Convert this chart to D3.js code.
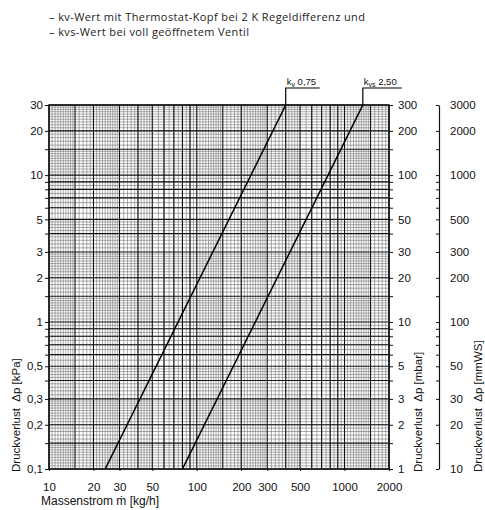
<!DOCTYPE html>
<html>
<head>
<meta charset="utf-8">
<script src="https://cdn.jsdelivr.net/npm/d3@7"></script>
<style>
  body { margin: 0; background: #fff; }
  svg { display: block; font-family: "Liberation Sans", Arial, sans-serif; }
</style>
</head>
<body>
<svg id="chart" width="485" height="510"></svg>
<script>
// values
const xTicks = [10, 20, 30, 50, 100, 200, 300, 500, 1000, 2000];
const kpaTicks = [0.1, 0.2, 0.3, 0.5, 1, 2, 3, 5, 10, 20, 30];
const mbarTicks = [1, 2, 3, 5, 10, 20, 30, 50, 100, 200, 300];
const mmwsTicks = [10, 20, 30, 50, 100, 200, 300, 500, 1000, 2000, 3000];
const kvLine = [{ m: 24, dp: 0.1 }, { m: 400, dp: 30 }];
const kvsLine = [{ m: 80, dp: 0.1 }, { m: 1330, dp: 30 }];
const notes = [
  '– kv-Wert mit Thermostat-Kopf bei 2 K Regeldifferenz und',
  '– kvs-Wert bei voll geöffnetem Ventil'
];

const svg = d3.select('#chart');
const pL = 49, pR = 389, pT = 105, pB = 469;

const x = d3.scaleLog().domain([10, 2000]).range([pL, pR]);
const y = d3.scaleLog().domain([0.1, 30]).range([pB, pT]);
const yMbar = d3.scaleLog().domain([1, 300]).range([pB, pT]);
const yMmws = d3.scaleLog().domain([10, 3000]).range([pB, pT]);

// log paper: fine subdivisions and heavier lines at 1, 1.5, 2 .. 9 per decade
const fineSteps = [[1, 1.5, 0.05], [1.5, 3, 0.1], [3, 5, 0.2], [5, 10, 0.5]];
const majorMults = [1, 1.5, 2, 3, 4, 5, 6, 7, 8, 9];
function gridValues(lo, hi) {
  const fine = [], major = [];
  for (let e = Math.floor(Math.log10(lo)); e <= Math.ceil(Math.log10(hi)); e++) {
    const p = Math.pow(10, e);
    majorMults.forEach(k => major.push(+(k * p).toPrecision(6)));
    fineSteps.forEach(([a, b, s]) => {
      for (let i = 1; a + i * s < b - 1e-9; i++) fine.push((a + i * s) * p);
    });
  }
  const inside = v => v >= lo * 0.9999 && v <= hi * 1.0001;
  return { fine: fine.filter(inside), major: major.filter(inside) };
}

const gx = gridValues(10, 2000), gy = gridValues(0.1, 30);
const grid = svg.append('g');

grid.selectAll('.fx').data(gx.fine).join('line')
  .attr('x1', d => x(d)).attr('x2', d => x(d))
  .attr('y1', pT).attr('y2', pB)
  .attr('stroke', '#666').attr('stroke-width', 0.55);
grid.selectAll('.fy').data(gy.fine).join('line')
  .attr('y1', d => y(d)).attr('y2', d => y(d))
  .attr('x1', pL).attr('x2', pR)
  .attr('stroke', '#666').attr('stroke-width', 0.55);
grid.selectAll('.mx').data(gx.major).join('line')
  .attr('x1', d => x(d)).attr('x2', d => x(d))
  .attr('y1', pT).attr('y2', pB)
  .attr('stroke', '#111').attr('stroke-width', 1.1);
grid.selectAll('.my').data(gy.major).join('line')
  .attr('y1', d => y(d)).attr('y2', d => y(d))
  .attr('x1', pL).attr('x2', pR)
  .attr('stroke', '#111').attr('stroke-width', 1.1);

svg.append('rect')
  .attr('x', pL).attr('y', pT)
  .attr('width', pR - pL).attr('height', pB - pT)
  .attr('fill', 'none').attr('stroke', '#111').attr('stroke-width', 1.5);

// axes
const labelFont = '11.5px';
const fmt = d => String(d).replace('.', ',');

const axLeft = svg.append('g')
  .attr('transform', `translate(${pL},0)`)
  .call(d3.axisLeft(y).tickValues(gy.major).tickSize(4)
    .tickFormat(d => kpaTicks.includes(d) ? fmt(d) : ''));
const axRight = svg.append('g')
  .attr('transform', `translate(${pR},0)`)
  .call(d3.axisRight(yMbar).tickValues(gridValues(1, 300).major).tickSize(4)
    .tickFormat(d => mbarTicks.includes(d) ? d : ''));
const axMm = svg.append('g')
  .attr('transform', 'translate(439,0)')
  .call(d3.axisRight(yMmws).tickValues(gridValues(10, 3000).major).tickSizeInner(-3).tickSizeOuter(0)
    .tickPadding(11)
    .tickFormat(d => mmwsTicks.includes(d) ? d : ''));
const axBottom = svg.append('g')
  .attr('transform', `translate(0,${pB})`)
  .call(d3.axisBottom(x).tickValues(xTicks).tickSize(2).tickPadding(12)
    .tickFormat(d => d));

[axLeft, axRight, axMm, axBottom].forEach(a => {
  a.selectAll('text').attr('font-size', labelFont).attr('fill', '#111')
    .attr('font-family', '"Liberation Sans", Arial, sans-serif');
  a.selectAll('line').attr('stroke', '#111');
});
axLeft.select('.domain').remove();
axRight.select('.domain').remove();
axBottom.select('.domain').remove();
axMm.select('.domain').attr('stroke', '#111').attr('stroke-width', 1.2);
axLeft.selectAll('text').attr('x', -6);
axRight.selectAll('text').attr('x', 9);

// kv curves
const line = d3.line().x(d => x(d.m)).y(d => y(d.dp));
[kvLine, kvsLine].forEach(pts => {
  svg.append('path').datum(pts)
    .attr('d', line)
    .attr('fill', 'none').attr('stroke', '#000').attr('stroke-width', 1.6);
});

// leaders with labels
const leaders = [
  { pts: kvLine, sub: 'v', value: '0,75', len: 34 },
  { pts: kvsLine, sub: 'vs', value: '2,50', len: 39 }
];
leaders.forEach(l => {
  const x0 = x(l.pts[1].m);
  svg.append('path')
    .attr('d', `M${x0},${pT}V88H${x0 + l.len}`)
    .attr('fill', 'none').attr('stroke', '#000').attr('stroke-width', 1.2);
  const t = svg.append('text')
    .attr('x', x0 + 1).attr('y', 85)
    .attr('font-size', '9.5px').attr('fill', '#111');
  t.append('tspan').text('k');
  t.append('tspan').attr('font-size', '7px').attr('dy', 2).text(l.sub);
  t.append('tspan').attr('dy', -2).text(' ' + l.value);
});

// axis titles
svg.append('text')
  .attr('x', 41).attr('y', 505)
  .attr('font-size', '12px').attr('fill', '#111')
  .text('Massenstrom ṁ [kg/h]');

const yTitles = [
  { x: 20, text: 'Druckverlust  Δp [kPa]' },
  { x: 422, text: 'Druckverlust  Δp [mbar]' },
  { x: 482, text: 'Druckverlust  Δp [mmWS]' }
];
yTitles.forEach(t => {
  svg.append('text')
    .attr('transform', `translate(${t.x},472) rotate(-90)`)
    .attr('font-size', '11.5px').attr('fill', '#111')
    .attr('xml:space', 'preserve')
    .text(t.text);
});

// notes on top
const noteWidths = [316, 200];
svg.selectAll('.note').data(notes).join('text')
  .attr('x', 49).attr('y', (d, i) => 21 + i * 15)
  .attr('font-family', '"Open Sans", sans-serif')
  .attr('font-size', '11px').attr('fill', '#222')
  .attr('textLength', (d, i) => noteWidths[i])
  .attr('lengthAdjust', 'spacing')
  .text(d => d);
</script>
</body>
</html>
